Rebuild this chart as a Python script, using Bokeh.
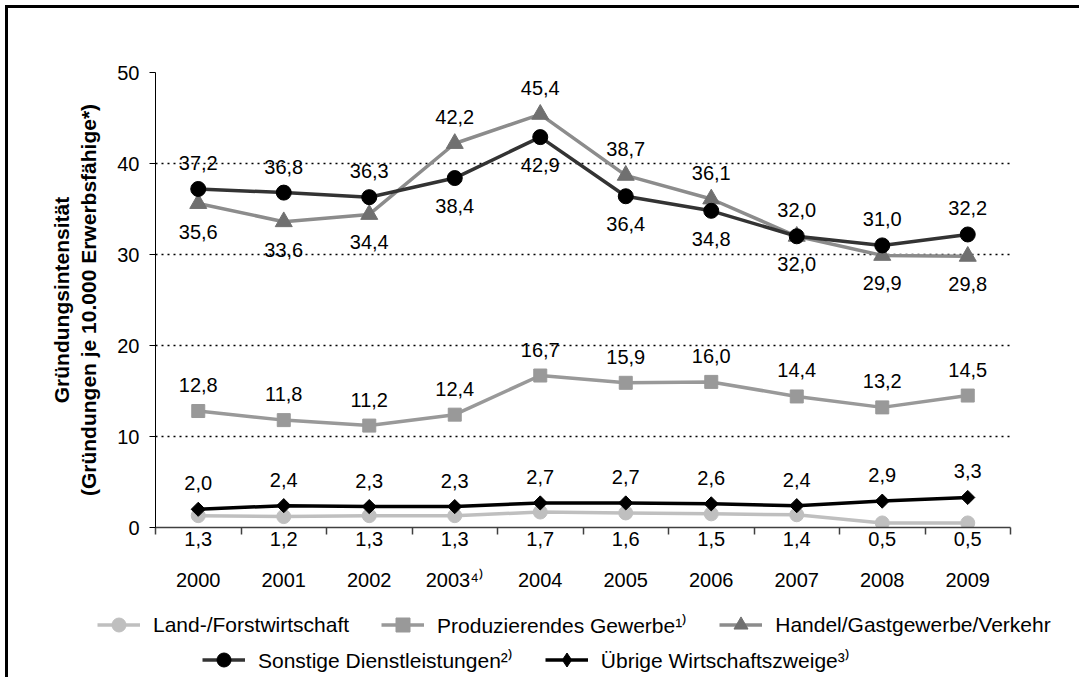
import numpy as np
from bokeh.plotting import figure
from bokeh.core.properties import value
from bokeh.models import (Range1d, FixedTicker, ColumnDataSource, LabelSet, LinearAxis,
                          Legend, LegendItem)
from bokeh.embed import file_html
from bokeh.resources import INLINE

# ---------------- data ----------------
years = ["2000", "2001", "2002", "2003⁴⁾", "2004", "2005", "2006", "2007", "2008", "2009"]
land = [1.3, 1.2, 1.3, 1.3, 1.7, 1.6, 1.5, 1.4, 0.5, 0.5]
prod = [12.8, 11.8, 11.2, 12.4, 16.7, 15.9, 16.0, 14.4, 13.2, 14.5]
handel = [35.6, 33.6, 34.4, 42.2, 45.4, 38.7, 36.1, 32.0, 29.9, 29.8]
sonst = [37.2, 36.8, 36.3, 38.4, 42.9, 36.4, 34.8, 32.0, 31.0, 32.2]
uebrige = [2.0, 2.4, 2.3, 2.3, 2.7, 2.7, 2.6, 2.4, 2.9, 3.3]
y_ticks = [0, 10, 20, 30, 40, 50]
names = ["Land-/Forstwirtschaft", "Produzierendes Gewerbe¹⁾", "Handel/Gastgewerbe/Verkehr",
         "Sonstige Dienstleistungen²⁾", "Übrige Wirtschaftszweige³⁾"]
y_title = "Gründungsintensität\n(Gründungen je 10.000 Erwerbsfähige*)"

# label placement (style, not data)
place_prod = ["above"] * 10
place_handel = ["below", "below", "below", "above", "above", "above", "above", "below", "below", "below"]
place_sonst = ["above", "above", "above", "below", "below", "below", "below", "above", "above", "above"]
place_uebr = ["above"] * 10

FONT = "Liberation Sans"
x = list(range(len(years)))


def fmt(v):
    return f"{v:.1f}".replace(".", ",")


W = 1074
p = figure(width=W, height=600, output_backend="svg", toolbar_location=None,
           x_range=Range1d(-0.5, len(years) - 0.5), y_range=Range1d(0, 50),
           min_border_left=147, min_border_right=72, min_border_top=64, min_border_bottom=81)
p.outline_line_color = None
p.background_fill_color = "white"
p.border_fill_color = "white"
p.styles = {"border-left": "3px solid #000", "border-top": "3px solid #000",
            "margin-left": "5px", "margin-top": "5px"}

# x axis 1: axis line, boundary ticks, labels of the lowest series
xa = p.xaxis[0]
xa.ticker = FixedTicker(ticks=x, minor_ticks=[i - 0.5 for i in range(len(years) + 1)])
xa.major_label_overrides = {i: fmt(land[i]) for i in x}
xa.major_tick_line_color = None
xa.major_tick_out = 0
xa.major_tick_in = 0
xa.minor_tick_line_color = "#404040"
xa.minor_tick_line_width = 1.5
xa.minor_tick_out = 7
xa.minor_tick_in = 0
xa.axis_line_color = "#404040"
xa.axis_line_width = 1.5
xa.major_label_standoff = -3
xa.major_label_text_font = FONT
xa.major_label_text_font_size = "20px"
xa.major_label_text_color = "black"

# x axis 2: years
xa2 = LinearAxis(ticker=FixedTicker(ticks=x, minor_ticks=[]),
                 major_label_overrides={i: years[i] for i in x},
                 axis_line_color=None, major_tick_line_color=None, minor_tick_line_color=None,
                 major_tick_out=0, major_tick_in=0, minor_tick_out=0, minor_tick_in=0,
                 major_label_standoff=20, major_label_text_font=FONT,
                 major_label_text_font_size="20px", major_label_text_color="black")
p.add_layout(xa2, "below")

# y axis
ya = p.yaxis[0]
ya.ticker = FixedTicker(ticks=y_ticks, minor_ticks=[])
ya.major_tick_out = 6
ya.major_tick_in = 0
ya.major_tick_line_color = "black"
ya.axis_line_color = "black"
ya.major_label_standoff = 10
ya.major_label_text_font = FONT
ya.major_label_text_font_size = "20px"
ya.major_label_text_color = "black"
ya.axis_label = y_title
ya.axis_label_text_font = FONT
ya.axis_label_text_font_size = "21px"
ya.axis_label_text_font_style = "bold"
ya.axis_label_text_color = "black"
ya.axis_label_standoff = 14

p.xgrid.visible = False
p.ygrid.ticker = FixedTicker(ticks=[t for t in y_ticks if t > 0])
p.ygrid.grid_line_color = "black"
p.ygrid.grid_line_dash = "2 4"
p.ygrid.grid_line_width = 1.5

# (values, line colour, marker colour, marker, size, angle, legend marker, placement)
series = [
    (land, "#BFBFBF", "#BFBFBF", "circle", 14, 0, "circle", None),
    (prod, "#999999", "#999999", "square", 13, 0, "square", place_prod),
    (handel, "#8C8C8C", "#707070", "triangle", 17, 0, "triangle", place_handel),
    (sonst, "#333333", "#000000", "circle", 15, 0, "circle", place_sonst),
    (uebrige, "#000000", "#000000", "square", 10, np.pi / 4, "diamond", place_uebr),
]

for vals, lc, mc, mk, sz, ang, lmk, place in series:
    src = ColumnDataSource(dict(x=x, y=vals))
    p.line("x", "y", source=src, line_color=lc, line_width=3.5)
    p.scatter("x", "y", source=src, marker=mk, size=sz, angle=ang,
              fill_color=mc, line_color=mc)

for vals, lc, mc, mk, sz, ang, lmk, place in series:
    if place is None:
        continue
    for pos, off in (("above", 26), ("below", -28)):
        idx = [i for i in x if place[i] == pos]
        if not idx:
            continue
        s = ColumnDataSource(dict(x=[x[i] for i in idx], y=[vals[i] for i in idx],
                                  t=[fmt(vals[i]) for i in idx]))
        p.add_layout(LabelSet(x="x", y="y", text="t", source=s, y_offset=off,
                              text_align="center", text_baseline="middle",
                              text_font=value(FONT), text_font_size="20px", text_color="black"))

# ---------------- legend strip (separate root, its frame is the whole canvas) ----------------
LH = 72
p2 = figure(width=W, height=LH, output_backend="svg", toolbar_location=None,
            x_range=Range1d(-100, -99), y_range=Range1d(0, 1),
            x_axis_location=None, y_axis_location=None,
            min_border_left=0, min_border_right=0, min_border_top=0, min_border_bottom=0)
p2.outline_line_color = None
p2.grid.visible = False
p2.background_fill_color = "white"
p2.border_fill_color = "white"
p2.styles = {"border-left": "3px solid #000", "margin-left": "5px"}

leg_renderers = []
for vals, lc, mc, mk, sz, ang, lmk, place in series:
    src = ColumnDataSource(dict(x=x, y=vals))
    lr = p2.line("x", "y", source=src, line_color=lc, line_width=3.5)
    sr = p2.scatter("x", "y", source=src, marker=lmk, size=sz, fill_color=mc, line_color=mc)
    leg_renderers.append([lr, sr])


def make_legend(items, loc):
    return Legend(items=items, orientation="horizontal", location=loc,
                  background_fill_alpha=0, border_line_color=None, padding=0, margin=0,
                  spacing=32, label_standoff=13, glyph_width=43, glyph_height=35,
                  label_height=35, label_text_font=FONT, label_text_font_size="21px",
                  label_text_color="black", label_text_baseline="middle")


leg1 = make_legend([LegendItem(label=names[i], renderers=leg_renderers[i]) for i in range(3)], (89, 35))
leg2 = make_legend([LegendItem(label=names[i], renderers=leg_renderers[i]) for i in range(3, 5)], (194, 0))
p2.add_layout(leg1)
p2.add_layout(leg2)

open("out.html", "w").write(file_html([p, p2], INLINE))
